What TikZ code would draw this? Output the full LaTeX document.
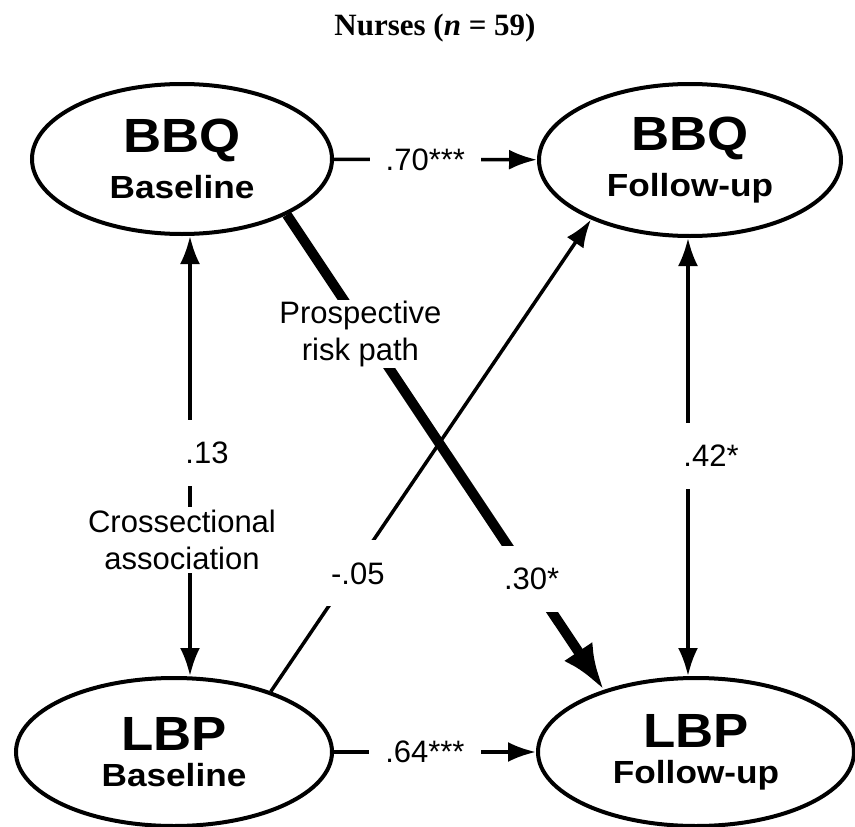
\documentclass[tikz,border=0pt]{standalone}
\usepackage{fontspec}
\setmainfont{Liberation Serif}
\newfontfamily\diagfont{Liberation Sans}
\newfontfamily\varfont[FakeStretch=1.1]{Liberation Sans}
\usetikzlibrary{arrows.meta, shapes.geometric, calc}
\newcommand\varname{\fontsize{48}{48}\selectfont}
\newcommand\wave{\fontsize{32}{32}\selectfont}

\tikzset{
  var/.style={ellipse, draw, fill=white, line width=4pt, inner sep=0pt, align=center, font=\varfont\bfseries},
  coef/.style={fill=white, font=\diagfont\fontsize{31}{37}\selectfont, align=center, minimum height=66pt, inner xsep=16pt, inner ysep=1pt},
  link/.style={line width=3.5pt},
  risk/.style={line width=10pt, -{Latex[length=46pt,width=34pt]}}
}

\begin{document}
\begin{tikzpicture}[x=1pt,y=-1pt,>={Latex[length=28pt,width=20pt]}]
\useasboundingbox (0,0) rectangle (855,827);
\node[font=\fontsize{31}{36}\selectfont\bfseries] (head) at (435,28) {Nurses (\textit{n} = 59)};

\node[var, minimum width=300pt, minimum height=150pt] (bbqB) at (182,159) {\varname BBQ\\[12pt]\wave Baseline};
\node[var, minimum width=302pt, minimum height=152pt] (bbqF) at (690,160) {\varname BBQ\\[12pt]\wave Follow-up};
\node[var, minimum width=316pt, minimum height=148pt] (lbpB) at (174,752) {\varname LBP\\[12pt]\wave Baseline};
\node[var, minimum width=316pt, minimum height=148pt] (lbpF) at (696,752) {\varname LBP\\[12pt]\wave Follow-up};

\draw[link,->] (bbqB) -- node[coef,pos=.45] {.70***} (bbqF);
\draw[link,->] (lbpB) -- node[coef,pos=.45] {.64***} (lbpF);
\draw[link,<->] ($(bbqB.south)+(8,0)$) -- node[coef,pos=.493,xshift=17pt] {.13}
  node[coef,pos=.69,xshift=-8pt] {Crossectional\\association} ($(lbpB.north)+(16,0)$);
\draw[link,<->] ($(bbqF.south)+(-2,0)$) -- node[coef,pos=.497,xshift=23pt] {.42*} ($(lbpF.north)+(-8,0)$);
\draw[link,->] (lbpB.32) -- node[coef,pos=.25,xshift=7pt] {-.05} (bbqF.211);
\draw[risk] (bbqB.-28) -- node[coef,pos=.251,xshift=-6pt] {Prospective\\risk path}
  node[coef,pos=.766,xshift=2pt] {.30*} (lbpF.146);
\end{tikzpicture}
\end{document}
